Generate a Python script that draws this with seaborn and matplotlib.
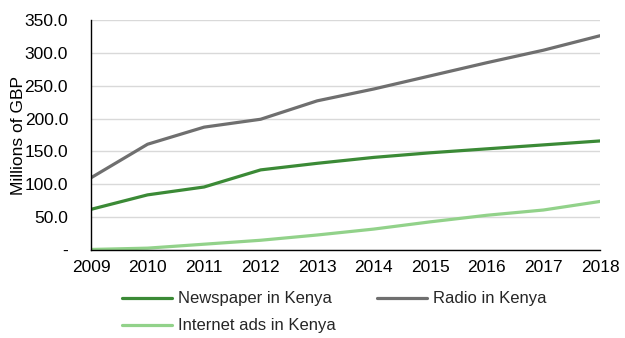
import matplotlib
matplotlib.use("Agg")
import matplotlib.pyplot as plt
import seaborn as sns
import pandas as pd
from matplotlib.ticker import FuncFormatter
from matplotlib.lines import Line2D

years = [2009, 2010, 2011, 2012, 2013, 2014, 2015, 2016, 2017, 2018]
newspaper = [62, 84, 96, 122, 132, 141, 148, 154, 160, 166]
radio = [110, 161, 187, 199, 227, 245, 265, 285, 304, 326]
internet = [1, 3, 9, 15, 23, 32, 43, 53, 61, 74]

series_names = ["Newspaper in Kenya", "Radio in Kenya", "Internet ads in Kenya"]
colors = {"Newspaper in Kenya": "#3b8a36", "Radio in Kenya": "#6f6f6f",
          "Internet ads in Kenya": "#92d28a"}

df = pd.DataFrame({
    "year": years * 3,
    "value": newspaper + radio + internet,
    "series": [series_names[0]] * 10 + [series_names[1]] * 10 + [series_names[2]] * 10,
})

sns.set_theme(style="white")
plt.rcParams['font.family'] = ['Liberation Sans', 'DejaVu Sans']

fig = plt.figure(figsize=(6.25, 3.38), dpi=100)
ax = fig.add_axes([0.1456, 0.260, 0.8144, 0.681])

sns.lineplot(data=df, x="year", y="value", hue="series", hue_order=series_names,
             palette=colors, linewidth=2.3, ax=ax, legend=False)

ax.set_xlim(2009, 2018)
ax.set_ylim(0, 350)
ax.set_xticks(years)
ax.set_yticks([0, 50, 100, 150, 200, 250, 300, 350])
ax.yaxis.set_major_formatter(FuncFormatter(lambda v, p: "-" if v == 0 else f"{v:.1f}"))
ax.grid(axis="y", color="#d9d9d9", linewidth=1)
ax.set_axisbelow(True)
for s in ["top", "right"]:
    ax.spines[s].set_visible(False)
for s in ["left", "bottom"]:
    ax.spines[s].set_color("black")
    ax.spines[s].set_linewidth(1)
ax.tick_params(axis="both", direction="out", width=1, color="black",
               labelsize=12.5, labelcolor="black")
ax.tick_params(axis="x", length=4, pad=3)
ax.tick_params(axis="y", length=6, pad=10.5)
ax.set_xlabel("")
ax.set_ylabel("Millions of GBP", fontsize=12.5, color="black")
ax.yaxis.set_label_coords(-0.128, 0.5)

order = ["Newspaper in Kenya", "Internet ads in Kenya", "Radio in Kenya"]
handles = [Line2D([0], [0], color=colors[n], linewidth=2.3) for n in order]
fig.legend(handles, order, ncol=2, loc="upper left", bbox_to_anchor=(0.195, 0.138),
           frameon=False, fontsize=12, handlelength=3.0, handletextpad=0.36,
           columnspacing=2.5, labelspacing=0.72, borderaxespad=0, borderpad=0)

fig.savefig("out.png", dpi=100)
